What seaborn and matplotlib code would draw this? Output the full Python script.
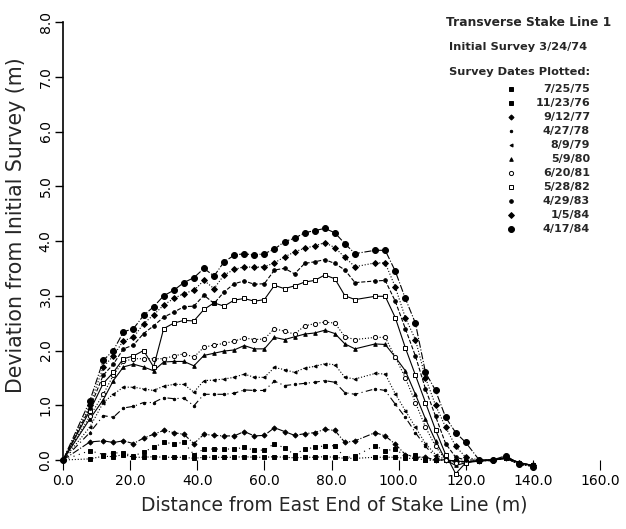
import matplotlib
matplotlib.use("Agg")
import matplotlib.pyplot as plt
import seaborn as sns
from matplotlib.lines import Line2D

# ---------------- data ----------------
stations = [0, 8, 12, 15, 18, 21, 24, 27, 30, 33, 36, 39, 42, 45, 48, 51, 54, 57, 60, 63,
            66, 69, 72, 75, 78, 81, 84, 87, 93, 96, 99, 102, 105, 108, 111, 114, 117, 120,
            124, 128, 132, 136, 140]

dev_750725 = [0, 0.02, 0.07, 0.06, 0.10, 0.05, 0.05, 0.06, 0.05, 0.05, 0.05, 0.03, 0.05, 0.05,
              0.05, 0.05, 0.06, 0.05, 0.05, 0.06, 0.05, 0.04, 0.05, 0.05, 0.06, 0.05, 0.03,
              0.03, 0.05, 0.05, 0.05, 0.03, 0.03, 0.0, 0.0, 0.0, -0.02, -0.03, -0.02, 0.0,
              0.03, -0.08, -0.1]
dev_761123 = [0, 0.17, 0.10, 0.13, 0.13, 0.07, 0.15, 0.23, 0.32, 0.30, 0.32, 0.10, 0.20, 0.20,
              0.20, 0.20, 0.23, 0.18, 0.18, 0.30, 0.22, 0.10, 0.20, 0.23, 0.26, 0.26, 0.04,
              0.07, 0.26, 0.17, 0.20, 0.07, 0.10, 0.0, 0.0, 0.0, -0.02, -0.03, -0.02, 0.0,
              0.03, -0.08, -0.1]
dev_770912 = [0, 0.33, 0.35, 0.32, 0.35, 0.30, 0.40, 0.47, 0.54, 0.50, 0.47, 0.30, 0.47, 0.45,
              0.44, 0.44, 0.52, 0.44, 0.45, 0.59, 0.52, 0.45, 0.48, 0.50, 0.56, 0.54, 0.32,
              0.35, 0.50, 0.44, 0.29, 0.10, 0.05, 0.05, 0.0, 0.0, -0.02, -0.03, -0.02, 0.0,
              0.03, -0.08, -0.1]
dev_780427 = [0, 0.50, 0.81, 0.78, 0.95, 0.98, 1.05, 1.05, 1.14, 1.12, 1.13, 0.99, 1.20, 1.20,
              1.20, 1.22, 1.28, 1.27, 1.27, 1.44, 1.36, 1.38, 1.40, 1.42, 1.45, 1.42, 1.23,
              1.20, 1.30, 1.27, 1.02, 0.78, 0.50, 0.25, 0.05, 0.0, -0.02, -0.03, -0.02, 0.0,
              0.03, -0.08, -0.1]
dev_790809 = [0, 0.60, 1.05, 1.20, 1.33, 1.33, 1.30, 1.27, 1.35, 1.38, 1.38, 1.24, 1.45, 1.46,
              1.48, 1.51, 1.57, 1.51, 1.51, 1.69, 1.65, 1.60, 1.68, 1.71, 1.76, 1.74, 1.51,
              1.48, 1.58, 1.57, 1.21, 0.90, 0.60, 0.30, 0.10, 0.0, -0.02, -0.03, -0.02, 0.0,
              0.03, -0.08, -0.1]
dev_800509 = [0, 0.75, 1.10, 1.45, 1.70, 1.75, 1.70, 1.63, 1.79, 1.80, 1.80, 1.72, 1.91, 1.95,
              1.99, 2.01, 2.09, 2.03, 2.03, 2.24, 2.20, 2.25, 2.30, 2.32, 2.37, 2.31, 2.12,
              2.03, 2.12, 2.11, 1.88, 1.63, 1.20, 0.75, 0.35, 0.0, -0.10, -0.05, 0.0, 0.0,
              0.03, -0.05, -0.1]
dev_810620 = [0, 0.80, 1.20, 1.55, 1.80, 1.85, 1.85, 1.85, 1.85, 1.90, 1.94, 1.88, 2.06, 2.10,
              2.13, 2.17, 2.23, 2.20, 2.21, 2.40, 2.35, 2.30, 2.45, 2.49, 2.52, 2.50, 2.25,
              2.20, 2.24, 2.24, 1.88, 1.50, 1.05, 0.60, 0.25, 0.0, -0.05, -0.05, 0.0, 0.0,
              0.03, -0.05, -0.1]
dev_820528 = [0, 0.90, 1.40, 1.60, 1.85, 1.90, 2.00, 1.70, 2.40, 2.50, 2.55, 2.54, 2.75, 2.87,
              2.81, 2.92, 2.95, 2.90, 2.93, 3.19, 3.13, 3.18, 3.25, 3.28, 3.38, 3.31, 3.00,
              2.93, 2.99, 2.99, 2.60, 2.05, 1.55, 1.05, 0.55, 0.10, -0.25, -0.05, -0.02, 0.0,
              0.05, -0.05, -0.1]
dev_830429 = [0, 0.95, 1.55, 1.75, 2.03, 2.10, 2.31, 2.45, 2.61, 2.70, 2.80, 2.81, 3.01, 2.86,
              3.07, 3.22, 3.27, 3.21, 3.22, 3.47, 3.50, 3.40, 3.59, 3.62, 3.66, 3.59, 3.47,
              3.24, 3.27, 3.28, 2.90, 2.40, 1.90, 1.30, 0.80, 0.30, 0.05, 0.0, 0.0, -0.02,
              0.05, -0.05, -0.1]
dev_840105 = [0, 1.00, 1.70, 1.90, 2.18, 2.24, 2.49, 2.65, 2.83, 2.95, 3.04, 3.10, 3.28, 3.13,
              3.38, 3.48, 3.53, 3.52, 3.53, 3.60, 3.71, 3.80, 3.87, 3.91, 3.97, 3.88, 3.70,
              3.53, 3.60, 3.60, 3.16, 2.60, 2.20, 1.50, 1.00, 0.60, 0.25, 0.05, 0.0, 0.0,
              0.05, -0.05, -0.1]
dev_840417 = [0, 1.08, 1.82, 2.00, 2.34, 2.40, 2.64, 2.80, 3.00, 3.10, 3.24, 3.33, 3.50, 3.36,
              3.62, 3.74, 3.77, 3.74, 3.77, 3.85, 3.99, 4.05, 4.15, 4.19, 4.23, 4.15, 3.95,
              3.77, 3.83, 3.83, 3.45, 2.95, 2.50, 1.60, 1.27, 0.78, 0.50, 0.32, 0.0, 0.0,
              0.08, -0.08, -0.12]

survey_dates = ["7/25/75", "11/23/76", "9/12/77", "4/27/78", "8/9/79", "5/9/80",
                "6/20/81", "5/28/82", "4/29/83", "1/5/84", "4/17/84"]
series = [dev_750725, dev_761123, dev_770912, dev_780427, dev_790809, dev_800509,
          dev_810620, dev_820528, dev_830429, dev_840105, dev_840417]

x_ticks = [0, 20, 40, 60, 80, 100, 120, 140, 160]
x_tick_labels = ["0.0", "20.0", "40.0", "60.0", "80.0", "100.0", "120.0", "140.0", "160.0"]
y_ticks = [0, 1, 2, 3, 4, 5, 6, 7, 8]
y_tick_labels = ["0.0", "1.0", "2.0", "3.0", "4.0", "5.0", "6.0", "7.0", "8.0"]

header_lines = ["Transverse Stake Line 1", "Initial Survey 3/24/74", "Survey Dates Plotted:"]
x_label = "Distance from East End of Stake Line (m)"
y_label = "Deviation from Initial Survey (m)"

# ---------------- styling ----------------
sns.set_style("white")
plt.rcParams["font.family"] = ["DejaVu Sans"]

styles = {
    "7/25/75":  dict(marker="s", ms=2.6, mfc="black", ls=":"),
    "11/23/76": dict(marker="s", ms=3.0, mfc="black", ls=(0, (1, 4))),
    "9/12/77":  dict(marker="D", ms=2.6, mfc="black", ls="-."),
    "4/27/78":  dict(marker=".", ms=3.5, mfc="black", ls=(0, (6, 3, 1, 3))),
    "8/9/79":   dict(marker="<", ms=2.2, mfc="black", ls=":"),
    "5/9/80":   dict(marker="^", ms=2.6, mfc="black", ls="-"),
    "6/20/81":  dict(marker="o", ms=3.0, mfc="white", ls=":"),
    "5/28/82":  dict(marker="s", ms=3.0, mfc="white", ls="-"),
    "4/29/83":  dict(marker="o", ms=2.6, mfc="black", ls="--"),
    "1/5/84":   dict(marker="D", ms=3.0, mfc="black", ls=":"),
    "4/17/84":  dict(marker="o", ms=4.3, mfc="black", ls="-."),
}

W, H = 626, 529
fig = plt.figure(figsize=(W / 100, H / 100), dpi=100)
ax = fig.add_axes([63 / W, 1 - 460 / H, 537 / W, 438 / H])

for date, vals in zip(survey_dates, series):
    st = styles[date]
    sns.lineplot(x=stations, y=vals, ax=ax, color="black", lw=0.8,
                 marker=st["marker"], markersize=st["ms"],
                 markerfacecolor=st["mfc"], markeredgecolor="black",
                 markeredgewidth=0.7, linestyle=st["ls"],
                 sort=False, estimator=None, clip_on=False)

ax.set_xlim(0, 160)
ax.set_ylim(0, 8)
for s in ["top", "right", "bottom"]:
    ax.spines[s].set_visible(False)
ax.spines["left"].set_color("black")
ax.spines["left"].set_linewidth(1.2)
ax.spines["left"].set_bounds(0, 8)

ax.set_xticks(x_ticks)
ax.set_xticklabels(x_tick_labels)
ax.set_yticks(y_ticks)
ax.set_yticklabels(y_tick_labels, rotation=90, va="center")
ax.tick_params(axis="x", direction="out", length=7, width=0.8, pad=3,
               labelsize=10, colors="black", bottom=True)
ax.tick_params(axis="y", direction="out", length=6, width=1.0, pad=1.5,
               labelsize=10, colors="black", left=True)

fig.text(334 / W, 1 - 505 / H, x_label, ha="center", va="center", fontsize=13.5)
fig.text(16 / W, 1 - 225 / H, y_label, ha="center", va="center", rotation=90, fontsize=14.8)

# header / legend block
fig.text(446 / W, 1 - 23 / H, header_lines[0], ha="left", va="center",
         fontsize=8.8, fontweight="bold")
fig.text(449 / W, 1 - 47 / H, header_lines[1], ha="left", va="center",
         fontsize=8.2, fontweight="bold")
fig.text(449 / W, 1 - 72 / H, header_lines[2], ha="left", va="center",
         fontsize=8.2, fontweight="bold")
for i, date in enumerate(survey_dates):
    ypx = 89 + 14.0 * i
    st = styles[date]
    fig.add_artist(Line2D([511 / W], [1 - ypx / H], transform=fig.transFigure,
                          marker=st["marker"], markersize=st["ms"],
                          markerfacecolor=st["mfc"], markeredgecolor="black",
                          markeredgewidth=0.7, linestyle="none"))
    fig.text(590 / W, 1 - ypx / H, date, ha="right", va="center",
             fontsize=8.0, fontweight="bold")

fig.savefig("out.png", dpi=100)
